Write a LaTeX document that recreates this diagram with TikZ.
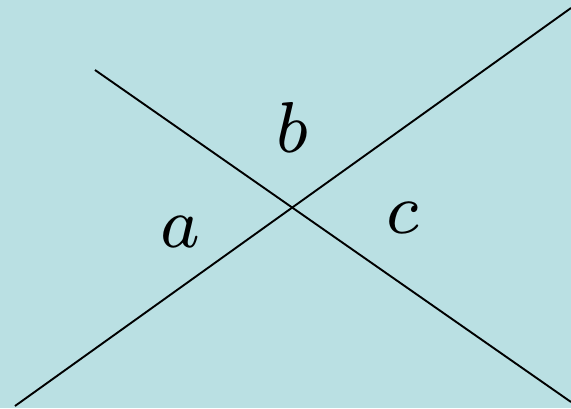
\documentclass[tikz,border=0pt]{standalone}
\definecolor{bgc}{HTML}{BAE0E3}
\newcommand{\biglab}[1]{\scalebox{9.6}[10.3]{\scriptsize$#1$}}
\begin{document}
\begin{tikzpicture}[x=1pt,y=-1pt,
  ln/.style={line width=1.9pt,black},
  lab/.style={anchor=base,inner sep=0pt}]
\fill[bgc] (0,0) rectangle (571,408);
\useasboundingbox (0,0) rectangle (571,408);
\coordinate (p1) at (95,70);
\coordinate (p2) at (571,402);
\coordinate (q1) at (15,406);
\coordinate (q2) at (571,8);
\draw[ln] (p1) -- (p2);
\draw[ln] (q1) -- (q2);
\node[lab] (b) at (292,152) {\biglab{b}};
\node[lab] (a) at (180,247) {\biglab{a}};
\node[lab] (c) at (403,233) {\biglab{c}};
\end{tikzpicture}
\end{document}
